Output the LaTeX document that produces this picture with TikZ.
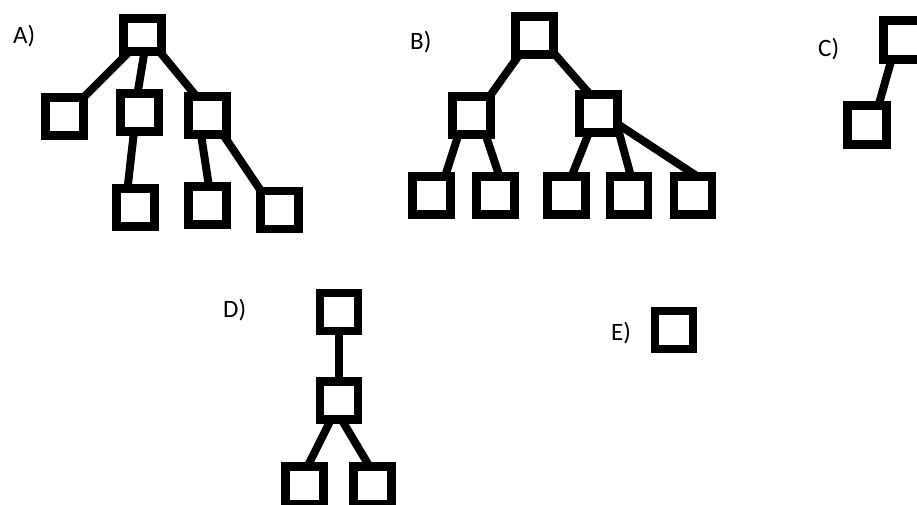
\documentclass[tikz,border=0pt]{standalone}
\usepackage{fontspec}
\setmainfont{Carlito}
\usetikzlibrary{calc}
\pgfdeclarelayer{bg}
\pgfsetlayers{bg,main}
\begin{document}
\begin{tikzpicture}[x=1pt,y=-1pt,
  box/.style={draw=black, line width=8.5pt, fill=white, minimum width=38pt, minimum height=38pt, inner sep=0pt, outer sep=0pt},
  link/.style={draw=black, line width=8pt},
  lab/.style={font=\fontsize{25}{28}\selectfont, inner sep=0pt, anchor=base west}]
\useasboundingbox (0,0) rectangle (917,504);
\begin{pgfonlayer}{bg}
\fill[white] (0,0) rectangle (917,504);
\end{pgfonlayer}
\clip (0,0) rectangle (917,504);

% labels
\node[lab] (la) at (13,43) {A)};
\node[lab] (lb) at (410,49) {B)};
\node[lab] (lc) at (818,56) {C)};
\node[lab] (ld) at (223,317) {D)};
\node[lab] (le) at (611,340) {E)};

% A
\node[box, minimum height=33pt] (a0) at (142.5,35) {};
\node[box] (a1) at (64.5,116.5) {};
\node[box] (a2) at (139.5,112.5) {};
\node[box] (a3) at (207.5,115.5) {};
\node[box] (a4) at (135.5,207.5) {};
\node[box] (a5) at (207.5,205.5) {};
\node[box] (a6) at (279.5,210) {};

% B
\node[box] (b0) at (534.5,35.5) {};
\node[box] (b1) at (471.5,115.5) {};
\node[box] (b2) at (598.5,113.5) {};
\node[box] (b3) at (431.5,195.5) {};
\node[box] (b4) at (495.5,195.5) {};
\node[box] (b5) at (566.5,195.5) {};
\node[box] (b6) at (629,195.5) {};
\node[box] (b7) at (693,195.5) {};

% C
\node[box, minimum height=39pt] (c0) at (902.5,40) {};
\node[box, minimum width=39pt, minimum height=39pt] (c1) at (867,125) {};

% D
\node[box] (d0) at (339,312) {};
\node[box] (d1) at (339,400.5) {};
\node[box] (d2) at (304.5,485.5) {};
\node[box] (d3) at (372.5,485.5) {};

% E
\node[box] (e0) at (674,330) {};

\begin{pgfonlayer}{bg}
% A edges
\draw[link] ($(a0.south west)+(6,0)$) -- (a1.north east);
\draw[link] ($(a0.south)+(2,0)$) -- ($(a2.north)+(-2,0)$);
\draw[link] ($(a0.south east)+(-2,0)$) -- ($(a3.north west)+(8,0)$);
\draw[link] ($(a2.south)+(-5.5,0)$) -- ($(a4.north)+(-8,0)$);
\draw[link] ($(a3.south)+(-6.5,0)$) -- ($(a5.north)+(1.5,0)$);
\draw[link] ($(a3.south east)+(-3.5,0)$) -- ($(a6.north west)+(0.5,0)$);
% B edges
\draw[link] ($(b0.south west)+(4,0)$) -- ($(b1.north east)+(-1,0)$);
\draw[link] ($(b0.south east)+(1.5,0)$) -- ($(b2.north west)+(10.5,0)$);
\draw[link] ($(b1.south west)+(6,0)$) -- ($(b3.north east)+(-5.5,0)$);
\draw[link] ($(b1.south east)+(-5,0)$) -- ($(b4.north)+(4,0)$);
\draw[link] ($(b2.south)+(-9.5,0)$) -- ($(b5.north)+(5,0)$);
\draw[link] ($(b2.south east)+(1.5,0)$) -- ($(b6.north)+(2,0)$);
\draw[link] ($(b2.east)+(0,10.5)$) -- ($(b7.north)+(4.5,0)$);
% C edge
\draw[link] ($(c0.south)+(-11,0)$) -- ($(c1.north)+(11.5,0)$);
% D edges
\draw[link] (d0.south) -- (d1.north);
\draw[link] ($(d1.south)+(-8,0)$) -- ($(d2.north)+(3,0)$);
\draw[link] ($(d1.south)+(2.5,0)$) -- ($(d3.north)+(-3,0)$);
\end{pgfonlayer}
\end{tikzpicture}
\end{document}
